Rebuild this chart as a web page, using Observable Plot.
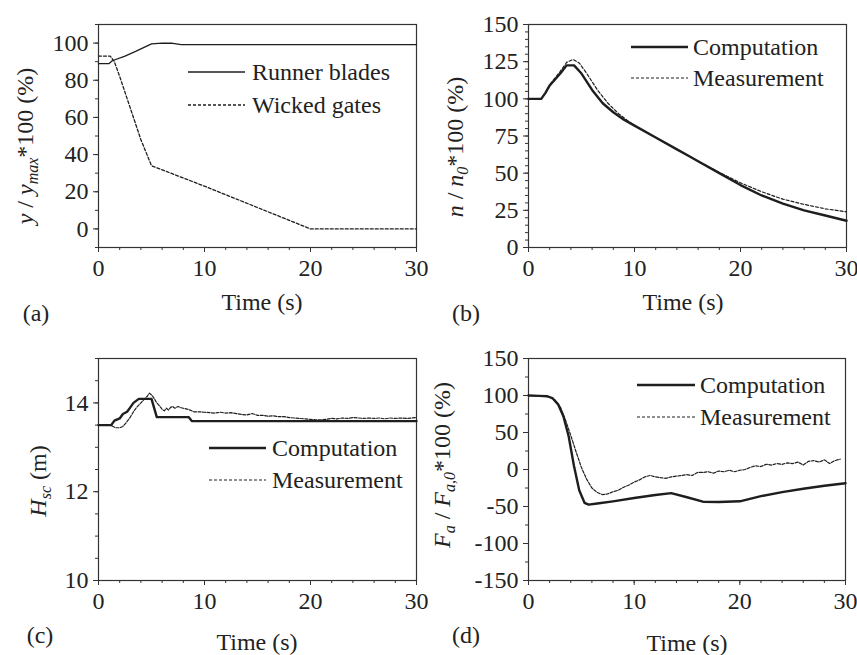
<!DOCTYPE html>
<html>
<head>
<meta charset="utf-8">
<script src="https://cdn.jsdelivr.net/npm/d3@7"></script>
<script src="https://cdn.jsdelivr.net/npm/@observablehq/plot@0.6"></script>
<style>
  html, body { margin: 0; padding: 0; background: #fff; }
  #root { position: relative; width: 857px; height: 655px; overflow: hidden; background: #fff; color: #222; font-family: 'Liberation Serif', serif; }
  .panel { position: absolute; }
  .lbl { position: absolute; font-size: 24px; white-space: nowrap; line-height: 24px; height: 24px; width: 200px; text-align: center; }
  .ylab { position: absolute; }
  .leg { position: absolute; font-size: 24px; white-space: nowrap; height: 28px; line-height: 28px; }
  .leg svg { position: absolute; top: 0; }
</style>
</head>
<body>
<div id="root"></div>
<script>
// ---------- data (time s, value) ----------
const timeMajor = [0, 10, 20, 30];
const timeMinor = d3.range(0, 31, 2);

// (a) servomotor strokes, %
const runnerBlades = [[0,89],[1,89],[1.3,90.5],[2.5,93],[3.5,95.5],[5,99.6],[6,100],[7,99.9],[7.8,99.2],[30,99.2]];
const wickedGates = [[0,93],[1.1,93],[1.5,90],[2,82],[3,65],[4,48],[5,34],[10,23],[15,11.5],[20,0],[30,0]];

// (b) rotational speed, %
const speedComp = [[0,100],[1.2,100],[1.6,104],[2,109],[3,117],[3.6,122.5],[4.3,122.5],[5,117],[6,106],[7,97],[8,91],[9,86],[10,82],[12,74],[14,66],[15,62],[16,58],[18,50],[20,42],[22,35],[24,29.5],[26,25],[28,21.5],[30,18]];
const speedMeas = [[0,100],[1.2,100],[1.6,104],[2,109.5],[3,118.5],[3.6,124.5],[4.2,126.5],[4.8,124],[5.5,117],[6.5,106],[7.5,97],[8.5,90],[9.5,84.5],[10,82],[12,74],[14,66],[16,58],[18,50.5],[20,43.5],[22,37.5],[24,32.5],[26,29],[28,26],[30,24]];

// (c) head H_sc, m
const headComp = [[0,13.5],[1.2,13.5],[1.5,13.6],[2,13.65],[2.3,13.75],[2.7,13.8],[3,13.9],[3.3,14.0],[3.8,14.09],[5,14.09],[5.5,13.68],[8.5,13.68],[8.8,13.59],[30,13.59]];
const headMeas = [[0,13.5],[0.5,13.5],[1,13.5],[1.3,13.48],[1.6,13.44],[2,13.44],[2.3,13.47],[2.6,13.55],[3,13.68],[3.3,13.8],[3.6,13.9],[4,14.0],[4.3,14.08],[4.6,14.15],[4.8,14.22],[5,14.18],[5.2,14.12],[5.5,14.0],[5.8,13.92],[6,13.86],[6.2,13.82],[6.4,13.88],[6.6,13.84],[6.8,13.9],[7,13.92],[7.2,13.88],[7.5,13.92],[7.8,13.89],[8,13.88],[8.5,13.85],[9,13.8],[9.5,13.8],[10,13.79],[10.5,13.78],[11,13.77],[11.5,13.79],[12,13.77],[12.5,13.78],[13,13.76],[13.5,13.74],[14,13.73],[14.5,13.76],[15,13.72],[15.5,13.72],[16,13.7],[16.5,13.71],[17,13.69],[17.5,13.69],[18,13.67],[18.5,13.66],[19,13.65],[19.5,13.64],[20,13.63],[20.5,13.62],[21,13.62],[21.5,13.63],[22,13.65],[22.5,13.64],[23,13.66],[23.5,13.65],[24,13.67],[24.5,13.66],[25,13.65],[25.5,13.66],[26,13.65],[26.5,13.66],[27,13.64],[27.5,13.66],[28,13.65],[28.5,13.66],[29,13.65],[29.5,13.66],[30,13.67]];

// (d) axial force, %
const forceComp = [[0,100],[1,99.5],[1.8,99],[2.3,96],[2.8,88],[3.3,72],[3.8,45],[4.3,5],[4.8,-28],[5.3,-45],[5.7,-47.5],[6.5,-46],[8,-43],[10,-38.5],[12,-34.5],[13.5,-32],[15,-37.5],[16.5,-43.5],[18,-44],[20,-43],[22,-36],[24,-30.5],[26,-26],[28,-22],[30,-18.5]];
const forceMeas = [[0,100],[0.5,100],[1,99],[1.5,99],[2,98],[2.5,94],[3,85],[3.5,67],[4,46],[4.5,24],[5,3],[5.5,-13],[6,-25],[6.5,-31],[7,-34],[7.5,-33],[8,-30],[8.5,-28],[9,-24],[9.5,-21],[10,-17],[10.5,-14],[11,-10],[11.5,-8],[12,-10],[12.5,-11],[13,-12],[13.5,-10],[14,-9],[14.5,-8],[15,-7],[15.5,-8],[16,-4],[16.5,-4],[17,-3],[17.5,-5],[18,-2],[18.5,-3],[19,-1],[19.5,-3],[20,-1],[20.5,0],[21,3],[21.5,5],[22,4],[22.5,7],[23,6],[23.5,8],[24,7],[24.5,9],[25,8],[25.5,10],[26,6],[26.5,11],[27,12],[27.5,10],[28,13],[28.5,8],[29,12],[29.5,14]];

// tick values
const yTicksA = [0,20,40,60,80,100], yMinorA = d3.range(-10, 111, 10);
const yTicksB = [0,25,50,75,100,125,150], yMinorB = d3.range(0, 151, 5);
const yTicksC = [10,12,14], yMinorC = d3.range(10, 15.01, 0.5);
const yTicksD = [-150,-100,-50,0,50,100,150], yMinorD = d3.range(-150, 151, 25);

const root = document.getElementById('root');
const INK = '#1e1e1e';
const FONT = "'Liberation Serif', serif";

function panel({left, top, width, height, margins, yDomain, yTicks, yMinor, series}) {
  const [mt, mr, mb, ml] = margins;
  const marks = [
    Plot.frame({stroke: '#333', strokeWidth: 1.2}),
    Plot.axisX(timeMinor, {tickSize: 3, text: null, label: null, stroke: '#333'}),
    Plot.axisX(timeMajor, {tickSize: 5, tickPadding: 6, fontSize: 24, label: null, stroke: '#333', fill: '#222', tickFormat: d => String(d)}),
    Plot.axisY(yMinor, {tickSize: 3, text: null, label: null, stroke: '#333'}),
    Plot.axisY(yTicks, {tickSize: 5, tickPadding: 5, fontSize: 24, label: null, stroke: '#333', fill: '#222', tickFormat: d => String(d)})
  ];
  for (const s of series) {
    marks.push(Plot.line(s.data, {x: d => d[0], y: d => d[1], stroke: INK, strokeWidth: s.w, strokeDasharray: s.dash || null}));
  }
  const svg = Plot.plot({
    width, height,
    marginTop: mt, marginRight: mr, marginBottom: mb, marginLeft: ml,
    x: {domain: [0, 30]},
    y: {domain: yDomain},
    style: {fontFamily: FONT, background: 'transparent'},
    marks
  });
  const wrap = document.createElement('div');
  wrap.className = 'panel';
  wrap.style.left = left + 'px';
  wrap.style.top = top + 'px';
  wrap.appendChild(svg);
  root.appendChild(wrap);
}

function centerText(text, x, y) {
  const d = document.createElement('div');
  d.className = 'lbl';
  d.textContent = text;
  d.style.left = (x - 100) + 'px';
  d.style.top = (y - 12) + 'px';
  d.style.fontFamily = FONT;
  root.appendChild(d);
}

// rotated axis title drawn as SVG text; parts: [text, italic, subscript]
function yTitle(parts, cx, cy) {
  const W = 40, H = 260;
  let inner = '';
  let sub = false;
  for (const [t, it, sb] of parts) {
    let dy = '';
    if (sb && !sub) dy = ' dy="5"';
    if (!sb && sub) dy = ' dy="-5"';
    sub = sb;
    inner += `<tspan${dy}${it ? ' font-style="italic"' : ''}${sb ? ' font-size="16"' : ''}>${t}</tspan>`;
  }
  const d = document.createElement('div');
  d.className = 'ylab';
  d.style.left = (cx - W / 2) + 'px';
  d.style.top = (cy - H / 2) + 'px';
  d.innerHTML = `<svg width="${W}" height="${H}" style="display:block;overflow:visible"><text x="${W / 2}" y="${H / 2 + 8}" transform="rotate(-90 ${W / 2} ${H / 2})" text-anchor="middle" font-size="24" fill="#222" style="font-family:${FONT};white-space:pre">${inner}</text></svg>`;
  root.appendChild(d);
}

function legend(x1, x2, textX, y, label, w, dash) {
  const d = document.createElement('div');
  d.className = 'leg';
  d.style.left = x1 + 'px';
  d.style.top = (y - 14) + 'px';
  d.style.fontFamily = FONT;
  const len = x2 - x1;
  const ns = 'http://www.w3.org/2000/svg';
  const s = document.createElementNS(ns, 'svg');
  s.setAttribute('width', len); s.setAttribute('height', 28);
  const ln = document.createElementNS(ns, 'line');
  ln.setAttribute('x1', 0); ln.setAttribute('x2', len);
  ln.setAttribute('y1', 14); ln.setAttribute('y2', 14);
  ln.setAttribute('stroke', INK); ln.setAttribute('stroke-width', w);
  if (dash) ln.setAttribute('stroke-dasharray', dash);
  s.appendChild(ln);
  d.appendChild(s);
  const sp = document.createElement('span');
  sp.textContent = label;
  sp.style.position = 'absolute';
  sp.style.left = (textX - x1) + 'px';
  sp.style.top = '0px';
  d.appendChild(sp);
  root.appendChild(d);
}

// (a)
panel({left: 0, top: 0, width: 428, height: 330, margins: [24, 12, 83, 98],
  yDomain: [-10, 110], yTicks: yTicksA, yMinor: yMinorA,
  series: [{data: runnerBlades, w: 1.3}, {data: wickedGates, w: 1.3, dash: '3,2'}]});
// (b)
panel({left: 430, top: 0, width: 427, height: 330, margins: [24, 11, 83, 98],
  yDomain: [0, 150], yTicks: yTicksB, yMinor: yMinorB,
  series: [{data: speedMeas, w: 1.2, dash: '3,2'}, {data: speedComp, w: 2.4}]});
// (c)
panel({left: 0, top: 330, width: 428, height: 325, margins: [28, 12, 75, 98],
  yDomain: [10, 15], yTicks: yTicksC, yMinor: yMinorC,
  series: [{data: headMeas, w: 1.2, dash: '3,1.5'}, {data: headComp, w: 2.4}]});
// (d)
panel({left: 430, top: 330, width: 427, height: 325, margins: [28, 12, 75, 98],
  yDomain: [-150, 150], yTicks: yTicksD, yMinor: yMinorD,
  series: [{data: forceMeas, w: 1.2, dash: '3,1.5'}, {data: forceComp, w: 2.4}]});

// axis titles and panel tags
centerText('Time (s)', 262, 302);
centerText('Time (s)', 683, 302);
centerText('Time (s)', 257, 642);
centerText('Time (s)', 687, 643);
centerText('(a)', 36, 313);
centerText('(b)', 466, 313);
centerText('(c)', 40, 635);
centerText('(d)', 466, 635);

yTitle([['y', 1, 0], [' / ', 0, 0], ['y', 1, 0], ['max', 1, 1], ['*100 (%)', 0, 0]], 25, 146);
yTitle([['n', 1, 0], [' / ', 0, 0], ['n', 1, 0], ['0', 1, 1], ['*100 (%)', 0, 0]], 455, 147);
yTitle([['H', 1, 0], ['sc', 1, 1], [' (m)', 0, 0]], 38, 481);
yTitle([['F', 1, 0], ['a', 1, 1], [' / ', 0, 0], ['F', 1, 0], ['a,0', 1, 1], ['*100 (%)', 0, 0]], 442, 465);

// legends
legend(188, 245, 252, 72, 'Runner blades', 1.3);
legend(188, 245, 252, 105, 'Wicked gates', 1.3, '3,2');
legend(631, 688, 693, 47, 'Computation', 2.4);
legend(631, 688, 693, 78, 'Measurement', 1.2, '3,2');
legend(209, 266, 272, 448, 'Computation', 2.4);
legend(209, 266, 272, 480, 'Measurement', 1.2, '3,2');
legend(637, 695, 700, 385, 'Computation', 2.4);
legend(637, 695, 700, 417, 'Measurement', 1.2, '3,2');
</script>
</body>
</html>
